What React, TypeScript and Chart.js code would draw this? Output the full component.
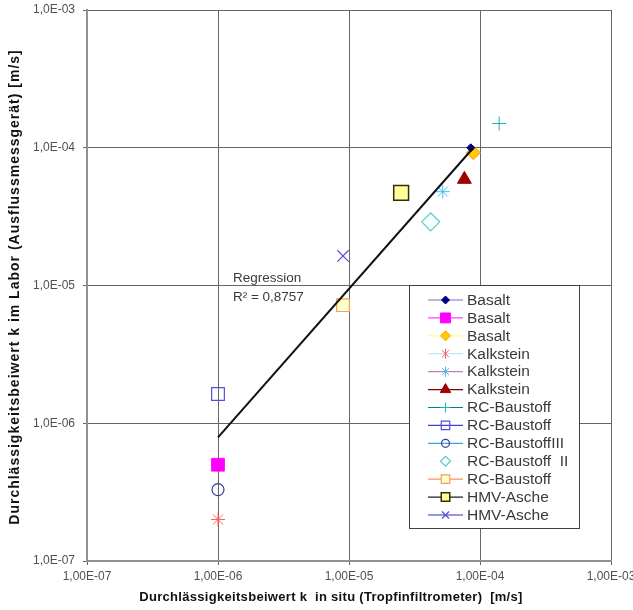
import React, { useEffect, useRef } from "react";
import { Chart, registerables } from "chart.js";

Chart.register(...registerables);

const seriesLabels = [
  "Basalt", "Basalt", "Basalt",
  "Kalkstein", "Kalkstein", "Kalkstein",
  "RC-Baustoff", "RC-Baustoff", "RC-BaustoffIII", "RC-Baustoff  II", "RC-Baustoff",
  "HMV-Asche", "HMV-Asche",
];
const xValues = [8.5e-5, 1.0e-6, 8.9e-5, 1.0e-6, 5.2e-5, 7.6e-5, 1.4e-4, 1.0e-6, 1.0e-6, 4.2e-5, 9.0e-6, 2.5e-5, 9.0e-6];
const yValues = [1.0e-4, 5.0e-7, 9.2e-5, 2.0e-7, 4.8e-5, 5.9e-5, 1.5e-4, 1.63e-6, 3.3e-7, 2.9e-5, 7.2e-6, 4.7e-5, 1.64e-5];

const regressionX = [1.0e-6, 8.9e-5];
const regressionY = [7.9e-7, 1.0e-4];
const regressionText = ["Regression", "R\u00B2 = 0,8757"];
const regressionTextAt = [1.3e-6, 1.13e-5];

const tickValues = [1e-7, 1e-6, 1e-5, 1e-4, 1e-3];
const xTickLabels = ["1,00E-07", "1,00E-06", "1,00E-05", "1,00E-04", "1,00E-03"];
const yTickLabels = ["1,0E-07", "1,0E-06", "1,0E-05", "1,0E-04", "1,0E-03"];

const xTitle = "Durchlässigkeitsbeiwert k  in situ (Tropfinfiltrometer)  [m/s]";
const yTitle = "Durchlässigkeitsbeiwert k im Labor (Ausflussmessgerät) [m/s]";

type Sty = { style: string; r: number; lr: number; stroke: string; fill: string; line: string; bw: number };
const styles: Sty[] = [
  { style: "rectRot", r: 4, lr: 4, stroke: "#000080", fill: "#000080", line: "#7070c0", bw: 1 },
  { style: "rect", r: 9, lr: 7, stroke: "#ff00ff", fill: "#ff00ff", line: "#ff40ff", bw: 1 },
  { style: "rectRot", r: 7, lr: 5, stroke: "#ff9900", fill: "#ffcc00", line: "#ffff80", bw: 1 },
  { style: "star", r: 7, lr: 5, stroke: "#ff5a5a", fill: "#ff5a5a", line: "#a8e4f4", bw: 1 },
  { style: "star", r: 7, lr: 5, stroke: "#40c0f0", fill: "#40c0f0", line: "#c080c0", bw: 1 },
  { style: "triangle", r: 8, lr: 6, stroke: "#a00000", fill: "#a00000", line: "#800000", bw: 1 },
  { style: "cross", r: 7, lr: 5, stroke: "#20b0b0", fill: "#20b0b0", line: "#008080", bw: 1 },
  { style: "rect", r: 9, lr: 6, stroke: "#5050e0", fill: "rgba(255,255,255,0)", line: "#4040c0", bw: 1.2 },
  { style: "circle", r: 6, lr: 4, stroke: "#304090", fill: "rgba(255,255,255,0)", line: "#40a0e0", bw: 1.2 },
  { style: "rectRot", r: 9, lr: 5, stroke: "#60c8c8", fill: "rgba(240,255,255,0.6)", line: "#f4fcfc", bw: 1.2 },
  { style: "rect", r: 9, lr: 6, stroke: "#f0a060", fill: "#ffffcc", line: "#ff9060", bw: 1.2 },
  { style: "rect", r: 10.5, lr: 6, stroke: "#303000", fill: "#ffff99", line: "#202020", bw: 1.5 },
  { style: "crossRot", r: 8, lr: 5, stroke: "#5050d0", fill: "#5050d0", line: "#3030c0", bw: 1.2 },
];

const FONT = "'Liberation Sans', Arial, sans-serif";

function drawMarker(ctx: CanvasRenderingContext2D, s: Sty, x: number, y: number, r: number) {
  ctx.save();
  ctx.strokeStyle = s.stroke;
  ctx.fillStyle = s.fill;
  ctx.lineWidth = s.bw;
  ctx.beginPath();
  const q = Math.SQRT1_2 * r;
  switch (s.style) {
    case "rect":
      ctx.rect(x - q, y - q, 2 * q, 2 * q);
      ctx.fill();
      ctx.stroke();
      break;
    case "rectRot":
      ctx.moveTo(x - r, y);
      ctx.lineTo(x, y - r);
      ctx.lineTo(x + r, y);
      ctx.lineTo(x, y + r);
      ctx.closePath();
      ctx.fill();
      ctx.stroke();
      break;
    case "circle":
      ctx.arc(x, y, r, 0, Math.PI * 2);
      ctx.fill();
      ctx.stroke();
      break;
    case "triangle":
      ctx.moveTo(x, y - r);
      ctx.lineTo(x + r * 0.87, y + r * 0.5);
      ctx.lineTo(x - r * 0.87, y + r * 0.5);
      ctx.closePath();
      ctx.fill();
      ctx.stroke();
      break;
    case "cross":
      ctx.moveTo(x - r, y);
      ctx.lineTo(x + r, y);
      ctx.moveTo(x, y - r);
      ctx.lineTo(x, y + r);
      ctx.stroke();
      break;
    case "crossRot":
      ctx.moveTo(x - q, y - q);
      ctx.lineTo(x + q, y + q);
      ctx.moveTo(x + q, y - q);
      ctx.lineTo(x - q, y + q);
      ctx.stroke();
      break;
    case "star":
      ctx.moveTo(x - q, y - q);
      ctx.lineTo(x + q, y + q);
      ctx.moveTo(x + q, y - q);
      ctx.lineTo(x - q, y + q);
      ctx.moveTo(x, y - r);
      ctx.lineTo(x, y + r);
      ctx.stroke();
      break;
  }
  ctx.restore();
}

const legendPlugin = {
  id: "customLegend",
  afterDraw(chart: any) {
    const ctx: any = chart.ctx;
    const left = 409, top = 285, right = 580, bottom = 529;
    ctx.save();
    ctx.fillStyle = "#ffffff";
    ctx.fillRect(left, top, right - left, bottom - top);
    ctx.strokeStyle = "#404040";
    ctx.lineWidth = 1;
    ctx.strokeRect(left + 0.5, top + 0.5, right - left - 1, bottom - top - 1);
    ctx.beginPath();
    ctx.rect(left + 1, top + 1, right - left - 3, bottom - top - 2);
    ctx.clip();
    const step = (515 - 300) / 12;
    seriesLabels.forEach((label, i) => {
      const y = 300 + i * step;
      const s = styles[i];
      ctx.strokeStyle = s.line;
      ctx.lineWidth = 1.2;
      ctx.beginPath();
      ctx.moveTo(428, y);
      ctx.lineTo(463, y);
      ctx.stroke();
      drawMarker(ctx, s, 445.5, y, s.lr);
      ctx.fillStyle = "#3a3a3a";
      ctx.font = `15.5px ${FONT}`;
      ctx.textBaseline = "middle";
      ctx.textAlign = "left";
      ctx.fillText(label, 467, y + 0.5);
    });
    ctx.restore();

    const xs = chart.scales.x, ys = chart.scales.y;
    const tx = xs.getPixelForValue(regressionTextAt[0]);
    const ty = ys.getPixelForValue(regressionTextAt[1]);
    ctx.save();
    ctx.fillStyle = "#3a3a3a";
    ctx.font = `13.5px ${FONT}`;
    ctx.textBaseline = "middle";
    ctx.textAlign = "left";
    ctx.fillText(regressionText[0], tx, ty);
    ctx.fillText(regressionText[1], tx, ty + 19);
    ctx.restore();

    // axis titles
    ctx.save();
    ctx.fillStyle = "#111111";
    ctx.textAlign = "center";
    ctx.textBaseline = "middle";
    ctx.font = `bold 13px ${FONT}`;
    ctx.letterSpacing = "0.3px";
    ctx.fillText(xTitle, 331, 597);
    ctx.restore();
    ctx.save();
    ctx.fillStyle = "#111111";
    ctx.textAlign = "center";
    ctx.textBaseline = "middle";
    ctx.font = `bold 14px ${FONT}`;
    ctx.letterSpacing = "1px";
    ctx.translate(15, 287);
    ctx.rotate(-Math.PI / 2);
    ctx.fillText(yTitle, 0, 0);
    ctx.restore();
  },
};

function labelFor(labels: string[], value: number) {
  const i = tickValues.findIndex((t) => Math.abs(Math.log10(t) - Math.log10(value)) < 1e-6);
  return i >= 0 ? labels[i] : "";
}

export default function App() {
  const ref = useRef<HTMLCanvasElement>(null);
  useEffect(() => {
    document.body.style.margin = "0";
    const canvas = ref.current!;
    const datasets: any[] = seriesLabels.map((label, i) => ({
      type: "scatter",
      label,
      data: [{ x: xValues[i], y: yValues[i] }],
      pointStyle: styles[i].style,
      pointRadius: styles[i].r,
      pointBorderColor: styles[i].stroke,
      pointBackgroundColor: styles[i].fill,
      pointBorderWidth: styles[i].bw,
      showLine: false,
      order: 1,
    }));
    datasets.push({
      type: "line",
      label: "Regression",
      data: regressionX.map((x, i) => ({ x, y: regressionY[i] })),
      borderColor: "#111111",
      borderWidth: 2,
      pointRadius: 0,
      fill: false,
      order: 0,
    });
    const chart = new Chart(canvas, {
      type: "scatter",
      data: { datasets },
      options: {
        animation: false,
        responsive: false,
        devicePixelRatio: 1,
        layout: { autoPadding: false, padding: { top: 10, right: 22, left: 0, bottom: 0 } },
        plugins: { legend: { display: false }, tooltip: { enabled: false } },
        scales: {
          x: {
            type: "logarithmic",
            min: 1e-7,
            max: 1e-3,
            afterBuildTicks: (s: any) => { s.ticks = tickValues.map((v) => ({ value: v })); },
            afterFit: (s: any) => {
              s.height = 49;
              s.paddingLeft = 0; s.paddingRight = 0; s.paddingTop = 0; s.paddingBottom = 0;
            },
            ticks: {
              autoSkip: false,
              maxRotation: 0,
              padding: 4,
              color: "#505050",
              font: { family: FONT, size: 12 },
              callback: (v: any) => labelFor(xTickLabels, Number(v)),
            },
            grid: { color: "#666666", lineWidth: 1, tickLength: 4, drawTicks: true, tickColor: "#666666" },
            border: { color: "#909090", width: 2 },
            title: { display: false },
          },
          y: {
            type: "logarithmic",
            min: 1e-7,
            max: 1e-3,
            afterBuildTicks: (s: any) => { s.ticks = tickValues.map((v) => ({ value: v })); },
            afterFit: (s: any) => {
              s.width = 87;
              s.paddingLeft = 0; s.paddingRight = 0; s.paddingTop = 0; s.paddingBottom = 0;
            },
            ticks: {
              autoSkip: false,
              padding: 8,
              color: "#505050",
              font: { family: FONT, size: 12 },
              callback: (v: any) => labelFor(yTickLabels, Number(v)),
            },
            grid: { color: "#666666", lineWidth: 1, tickLength: 4, drawTicks: true, tickColor: "#666666" },
            border: { color: "#909090", width: 2 },
            title: { display: false },
          },
        },
      },
      plugins: [legendPlugin],
    } as any);
    return () => chart.destroy();
  }, []);
  return (
    <div style={{ width: 633, height: 610 }}>
      <canvas ref={ref} width={633} height={610} style={{ display: "block" }} />
    </div>
  );
}
